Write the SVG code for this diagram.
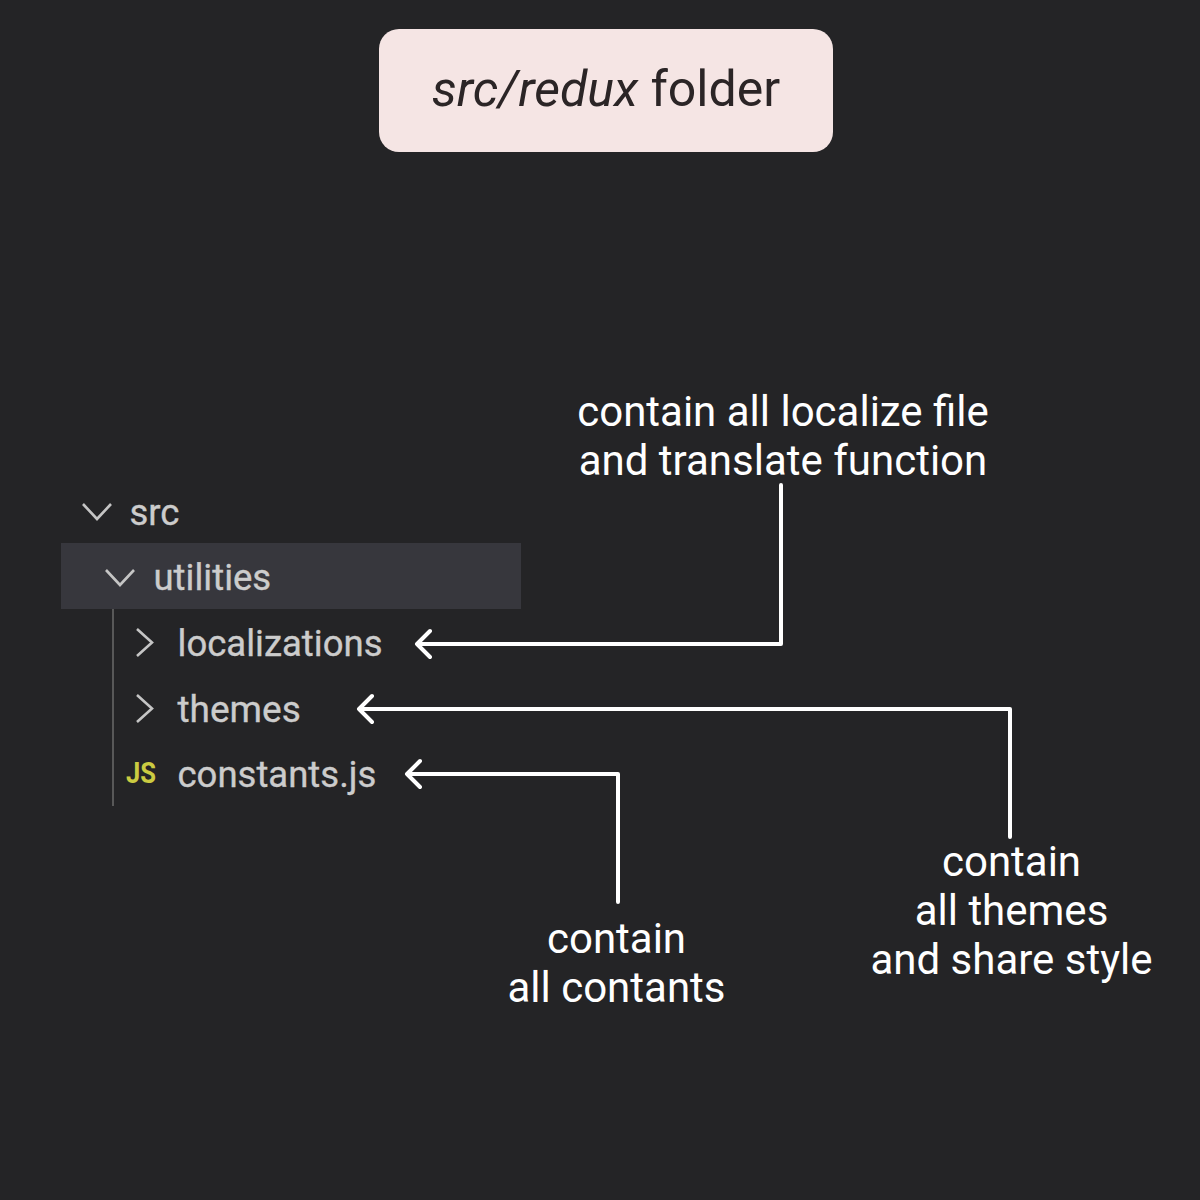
<svg xmlns="http://www.w3.org/2000/svg" width="1200" height="1200" viewBox="0 0 1200 1200">
<style>
text{font-family:Roboto,"Liberation Sans",sans-serif}
.n{font-size:42px;fill:#fff;text-anchor:middle}
.t{font-size:36.5px;fill:#cccccc;stroke:#cccccc;stroke-width:.35}
.w{font-size:37px}
.c{fill:none;stroke:#fff;stroke-width:4;stroke-linecap:round;stroke-linejoin:round}
.h{fill:none;stroke:#c5c5c5;stroke-width:2.6}
</style>
<rect width="1200" height="1200" fill="#242426"/>
<g id="title"><rect x="379" y="29" width="454" height="123" rx="20" fill="#f5e5e4"/>
<text x="606" y="106" font-size="50" fill="#2b2526" text-anchor="middle"><tspan font-style="italic">src/redux</tspan> folder</text></g>
<g id="tree">
<rect x="61" y="543" width="460" height="66" fill="#37373d"/>
<rect x="112" y="609" width="2" height="197" fill="#585858"/>
<path class="h" d="M83 504L97 519L111 504M106 570L120 585L134 570M137 629L152 642.500L137 656M137 695L152 708.500L137 722"/>
<text class="t" x="129.500" y="525">src</text>
<text class="t" x="153.500" y="590">utilities</text>
<text class="t" x="177.500" y="656">localizations</text>
<text class="t w" x="177.500" y="722">themes</text>
<text class="t" x="177.500" y="787">constants.js</text>
<text x="126" y="783" font-size="30" font-weight="700" fill="#cbcb41" textLength="30" lengthAdjust="spacingAndGlyphs">JS</text>
</g>
<g id="connectors">
<path class="c" d="M781 485V644H417M430 631L417 644L430 657"/>
<path class="c" d="M1010 837V709H359M372 696L359 709L372 722"/>
<path class="c" d="M618 902V774H407M420 761L407 774L420 787"/>
</g>
<g id="label-localizations"><text class="n" x="783" y="426.300">contain all localize file</text><text class="n" x="783" y="475.300">and translate function</text></g>
<g id="label-themes"><text class="n" x="1011.500" y="876.300">contain</text><text class="n" x="1011.500" y="925.300">all themes</text><text class="n" x="1011.500" y="974.300">and share style</text></g>
<g id="label-constants"><text class="n" x="616.500" y="953.300">contain</text><text class="n" x="616.500" y="1002.300">all contants</text></g>
</svg>
